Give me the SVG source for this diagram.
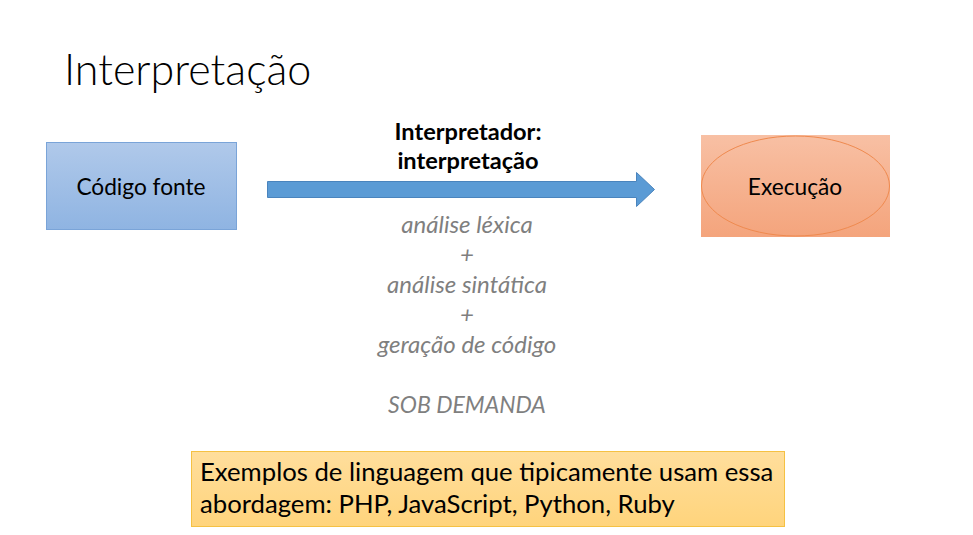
<svg xmlns="http://www.w3.org/2000/svg" width="973" height="535" viewBox="0 0 973 535">
<defs>
<linearGradient id="gBlue" x1="0" y1="0" x2="0" y2="1"><stop offset="0" stop-color="#b0c9ea"/><stop offset="1" stop-color="#8fb4e2"/></linearGradient>
<linearGradient id="gOrange" x1="0" y1="0" x2="0" y2="1"><stop offset="0" stop-color="#f8c0a4"/><stop offset="1" stop-color="#f4a47c"/></linearGradient>
<linearGradient id="gYellow" x1="0" y1="0" x2="0" y2="1"><stop offset="0" stop-color="#ffde9c"/><stop offset="1" stop-color="#ffd47c"/></linearGradient>
<style>
text{font-family:Lato,"Open Sans",sans-serif;fill:#000}
.lbl{font-size:22.7px;text-anchor:middle}
.it{font-size:24px;font-style:italic;fill:#7f7f7f;text-anchor:middle}
.bd{font-size:23.6px;font-weight:bold;text-anchor:middle}
.ex{font-size:25.7px}
</style>
</defs>
<rect width="973" height="535" fill="#fff"/>
<text x="64" y="85" style="font-size:43px;font-weight:300">Interpretação</text>
<g id="codigo">
<rect x="46.5" y="142.5" width="190" height="87" fill="url(#gBlue)" stroke="#7aa4d8"/>
<text class="lbl" x="141" y="195">Código fonte</text>
</g>
<g id="execucao">
<rect x="701" y="135" width="189" height="102" fill="url(#gOrange)"/>
<ellipse cx="795.5" cy="186" rx="94" ry="50" fill="none" stroke="#ef8a4f" stroke-width="1"/>
<text class="lbl" x="795" y="195">Execução</text>
</g>
<g id="connectors">
<path d="M267.5 181.5 H636.5 V172.5 L654.5 189.5 L636.5 206.5 V197.5 H267.5 Z" fill="#5b9bd5" stroke="#4a84bd" stroke-width="1"/>
<text class="bd" x="468" y="140">Interpretador:</text>
<text class="bd" x="468" y="169">interpretação</text>
<text class="it" x="467" y="233">análise léxica</text>
<text class="it" x="467" y="263">+</text>
<text class="it" x="467" y="293">análise sintática</text>
<text class="it" x="467" y="323">+</text>
<text class="it" x="467" y="353">geração de código</text>
<text class="it" x="467" y="413" style="font-size:23px">SOB DEMANDA</text>
</g>
<g id="exemplos">
<rect x="191.5" y="451.5" width="593" height="75" fill="url(#gYellow)" stroke="#f5c143"/>
<text class="ex" x="200" y="481">Exemplos de linguagem que tipicamente usam essa</text>
<text class="ex" x="200" y="513">abordagem: PHP, JavaScript, Python, Ruby</text>
</g>
</svg>
